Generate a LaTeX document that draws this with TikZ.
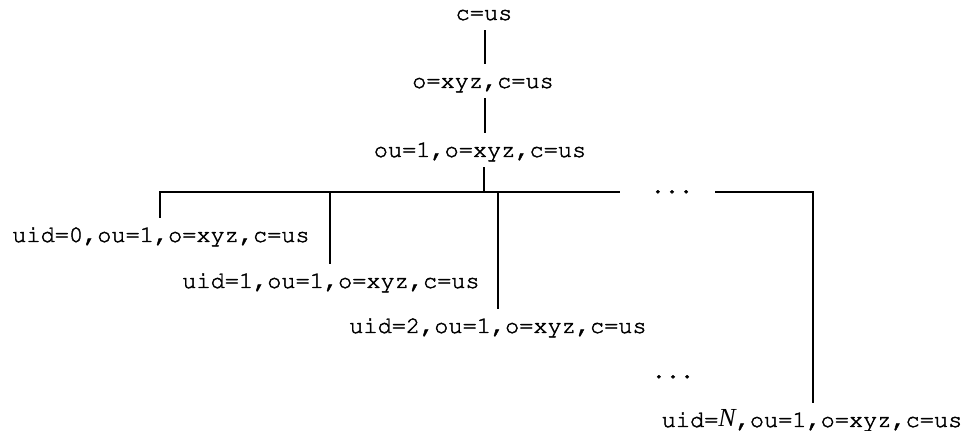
\documentclass[tikz,border=0pt]{standalone}
\usepackage[T1]{fontenc}
\usepackage{fontspec}
\setmonofont{Liberation Mono}
\newfontfamily\nfont{Liberation Serif}
\newcommand\courfont{\fontencoding{T1}\fontfamily{pcr}\fontsize{11.8pt}{14pt}\selectfont}
\newcommand\heavyon{\special{pdf:literal direct 2 Tr 0.22 w}}
\newcommand\heavyoff{\special{pdf:literal direct 0 Tr}}
\begin{document}
\begin{tikzpicture}[x=0.5pt,y=-0.5pt,
  lbl/.style={anchor=base,font=\courfont,
    text height=8pt,text depth=1pt,inner ysep=4pt,inner xsep=0pt,
    execute at begin node=\heavyon, execute at end node=\heavyoff},
  link/.style={line width=0.7pt}]
\useasboundingbox (0,0) rectangle (974,431);
\node[lbl] (cus)  at (484,20)  {c=us};
\node[lbl] (oxyz) at (483,88)  {o=xyz,c=us};
\node[lbl] (ou)   at (480,157) {ou=1,o=xyz,c=us};
\node[lbl] (u0)   at (161,242) {uid=0,ou=1,o=xyz,c=us};
\node[lbl] (u1)   at (331,288) {uid=1,ou=1,o=xyz,c=us};
\node[lbl] (u2)   at (498,333) {uid=2,ou=1,o=xyz,c=us};
\node[lbl] (hdots) at (672,193) {...};
\node[lbl] (vdots) at (673,378) {...};
\node[lbl] (uN)   at (812,427) {uid=\heavyoff{\fontencoding{TU}\nfont\itshape\fontsize{13pt}{14pt}\selectfont N}\heavyon,ou=1,o=xyz,c=us};
\coordinate (barL) at (620,192);
\coordinate (barR) at (715,192);
\draw[link] (cus.south -| 485,0) -- (oxyz.north -| 485,0);
\draw[link] (oxyz.south -| 485,0) -- (ou.north -| 485,0);
\draw[link] (ou.south -| 484,0) -- (barL -| 484,0);
\draw[link] (u0.north -| 160,0) |- (barL);
\draw[link] (u1.north -| 330,0) -- (barL -| 330,0);
\draw[link] (u2.north) -- (u2.north |- barL);
\draw[link] (barR) -| (uN.north -| 813,0);
\end{tikzpicture}
\end{document}
